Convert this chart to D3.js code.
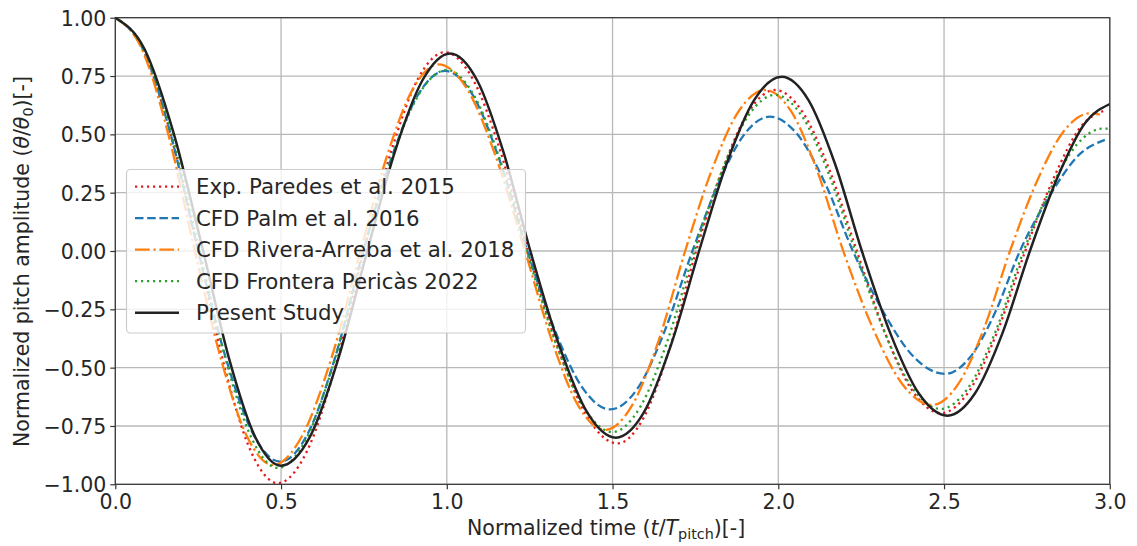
<!DOCTYPE html>
<html><head><meta charset="utf-8">
<script src="https://cdn.jsdelivr.net/npm/d3@7"></script>
<style>body{margin:0;background:#fff}text{font-family:"DejaVu Sans",sans-serif;fill:#262626}</style>
</head><body><svg id="c" width="1137" height="546"></svg>
<script>
// ---- data ----
const xTicks = [0, 0.5, 1, 1.5, 2, 2.5, 3];
const xTickLabels = ["0.0", "0.5", "1.0", "1.5", "2.0", "2.5", "3.0"];
const yTicks = [-1, -0.75, -0.5, -0.25, 0, 0.25, 0.5, 0.75, 1];
const yTickLabels = ["\u22121.00", "\u22120.75", "\u22120.50", "\u22120.25", "0.00", "0.25", "0.50", "0.75", "1.00"];
const seriesNames = ["Exp. Paredes et al. 2015", "CFD Palm et al. 2016", "CFD Rivera-Arreba et al. 2018", "CFD Frontera Pericàs 2022", "Present Study"];

const expParedes = [[0,1],[0.083,0.866],[0.167,0.5],[0.25,0],[0.33,-0.5],[0.41,-0.862],[0.49,-0.995],[0.577,-0.862],[0.663,-0.5],[0.75,0],
 [0.832,0.426],[0.913,0.738],[0.995,0.852],[1.078,0.738],[1.162,0.426],[1.245,0],[1.335,-0.413],[1.425,-0.714],[1.515,-0.825],
 [1.594,-0.714],[1.673,-0.413],[1.752,0],[1.831,0.345],[1.911,0.598],[1.99,0.69],[2.072,0.598],[2.155,0.345],[2.237,0],
 [2.321,-0.348],[2.406,-0.602],[2.49,-0.695],[2.575,-0.602],[2.66,-0.348],[2.745,0],[2.83,0.31],[2.915,0.537],[2.98,0.6]];
const cfdPalm = [[0,1],[0.083,0.866],[0.167,0.5],[0.25,0],[0.332,-0.452],[0.415,-0.782],[0.497,-0.903],[0.581,-0.782],[0.664,-0.452],[0.748,0],
 [0.83,0.386],[0.913,0.669],[0.995,0.772],[1.078,0.669],[1.16,0.386],[1.243,0],[1.326,-0.34],[1.41,-0.588],[1.493,-0.679],
 [1.576,-0.588],[1.658,-0.34],[1.741,0],[1.819,0.288],[1.897,0.499],[1.975,0.576],[2.058,0.499],[2.142,0.288],[2.225,0],
 [2.318,-0.264],[2.41,-0.456],[2.503,-0.527],[2.578,-0.456],[2.654,-0.264],[2.729,0],[2.82,0.24],[2.91,0.416],[2.985,0.476]];
const cfdRivera = [[0,1],[0.08,0.866],[0.16,0.5],[0.24,0],[0.318,-0.459],[0.397,-0.794],[0.475,-0.917],[0.563,-0.794],[0.652,-0.459],[0.74,0],
 [0.818,0.4],[0.897,0.693],[0.975,0.8],[1.062,0.693],[1.149,0.4],[1.236,0],[1.317,-0.384],[1.397,-0.664],[1.478,-0.767],
 [1.558,-0.664],[1.639,-0.384],[1.719,0],[1.799,0.345],[1.88,0.598],[1.96,0.69],[2.039,0.598],[2.117,0.345],[2.196,0],
 [2.285,-0.33],[2.375,-0.572],[2.464,-0.66],[2.542,-0.572],[2.621,-0.33],[2.699,0],[2.779,0.295],[2.86,0.511],[2.94,0.59],[2.97,0.585]];
const cfdFrontera = [[0,1],[0.085,0.866],[0.17,0.5],[0.255,0],[0.333,-0.465],[0.412,-0.805],[0.49,-0.93],[0.576,-0.805],[0.662,-0.465],[0.748,0],
 [0.832,0.388],[0.916,0.672],[1.0,0.776],[1.08,0.672],[1.161,0.388],[1.241,0],[1.327,-0.388],[1.414,-0.672],[1.5,-0.776],
 [1.582,-0.672],[1.665,-0.388],[1.747,0],[1.828,0.335],[1.909,0.579],[1.99,0.669],[2.071,0.579],[2.151,0.335],[2.232,0],
 [2.318,-0.339],[2.404,-0.586],[2.49,-0.677],[2.573,-0.586],[2.657,-0.339],[2.74,0],[2.82,0.263],[2.9,0.455],[2.98,0.525],[3.0,0.524]];
const presentStudy = [[0,1],[0.088,0.866],[0.177,0.5],[0.265,0],[0.343,-0.46],[0.422,-0.797],[0.5,-0.92],[0.587,-0.797],[0.673,-0.46],[0.76,0],
 [0.843,0.424],[0.927,0.733],[1.01,0.847],[1.091,0.733],[1.171,0.424],[1.252,0],[1.338,-0.4],[1.424,-0.693],[1.51,-0.8],
 [1.594,-0.693],[1.677,-0.4],[1.761,0],[1.844,0.374],[1.927,0.647],[2.01,0.747],[2.091,0.647],[2.171,0.374],[2.252,0],
 [2.338,-0.353],[2.424,-0.611],[2.51,-0.706],[2.593,-0.611],[2.676,-0.353],[2.759,0],[2.843,0.318],[2.926,0.55],[3.0,0.63]];

// ---- styles ----
const styles = [
  {color:"#e41a1c", dash:"2.2,3.8", w:2.3},
  {color:"#1f77b4", dash:"8.5,3.7", w:2.3},
  {color:"#ff7f0e", dash:"14.7,3.7,2.3,3.7", w:2.3},
  {color:"#2ca02c", dash:"2.2,3.8", w:2.3},
  {color:"#222222", dash:null, w:2.5}
];
const allSeries = [expParedes, cfdPalm, cfdRivera, cfdFrontera, presentStudy];

const FS = 20.5, LFS = 21.3;
const svg = d3.select("#c");
const L = 115.3, R = 1109.8, T = 17.7, B = 484.3;
const x = d3.scaleLinear().domain([0, 3]).range([L, R]);
const y = d3.scaleLinear().domain([-1, 1]).range([B, T]);

// grid
const g = svg.append("g");
g.selectAll(".gx").data(xTicks).enter().append("line")
  .attr("x1", d => x(d)).attr("x2", d => x(d)).attr("y1", T).attr("y2", B)
  .attr("stroke", "#b8b8b8").attr("stroke-width", 1.3);
g.selectAll(".gy").data(yTicks).enter().append("line")
  .attr("x1", L).attr("x2", R).attr("y1", d => y(d)).attr("y2", d => y(d))
  .attr("stroke", "#b8b8b8").attr("stroke-width", 1.3);

// clip
svg.append("clipPath").attr("id", "clip").append("rect")
  .attr("x", L).attr("y", T - 2).attr("width", R - L).attr("height", B - T + 4);

const line = d3.line().x(d => x(d[0])).y(d => y(d[1])).curve(d3.curveMonotoneX);
const lines = svg.append("g").attr("clip-path", "url(#clip)");
allSeries.forEach((s, i) => {
  lines.append("path").datum(s).attr("d", line)
    .attr("fill", "none").attr("stroke", styles[i].color)
    .attr("stroke-width", styles[i].w)
    .attr("stroke-dasharray", styles[i].dash)
    .attr("stroke-linejoin", "round");
});

// axes
const xAxis = d3.axisBottom(x).tickValues(xTicks).tickFormat((d, i) => xTickLabels[i]).tickSize(5).tickPadding(5);
const yAxis = d3.axisLeft(y).tickValues(yTicks).tickFormat((d, i) => yTickLabels[i]).tickSize(5).tickPadding(4);
const gx = svg.append("g").attr("transform", `translate(0,${B})`).call(xAxis);
const gy = svg.append("g").attr("transform", `translate(${L},0)`).call(yAxis);
[gx, gy].forEach(a => {
  a.select(".domain").remove();
  a.selectAll("line").attr("stroke", "#333").attr("stroke-width", 1.2);
  a.selectAll("text").style("font-size", FS + "px").attr("fill", "#262626");
});
gx.selectAll("text").attr("dy", "0.74em");
gy.selectAll("text").attr("dy", "0.36em");

// frame
svg.append("rect").attr("x", L).attr("y", T).attr("width", R - L).attr("height", B - T)
  .attr("fill", "none").attr("stroke", "#333").attr("stroke-width", 1.2);

// axis labels
const xl = svg.append("text").attr("x", 467).attr("y", 535).style("font-size", FS + "px");
xl.append("tspan").text("Normalized time (");
xl.append("tspan").style("font-style", "italic").text("t");
xl.append("tspan").text("/");
xl.append("tspan").style("font-style", "italic").text("T");
xl.append("tspan").style("font-size", (FS * 0.7) + "px").attr("dy", 4).text("pitch");
xl.append("tspan").attr("dy", -4).text(")[-]");

const yl = svg.append("text").attr("transform", "translate(29,447) rotate(-90)").style("font-size", FS + "px");
yl.append("tspan").text("Normalized pitch amplitude (");
yl.append("tspan").style("font-style", "italic").text("\u03B8");
yl.append("tspan").text("/");
yl.append("tspan").style("font-style", "italic").text("\u03B8");
yl.append("tspan").style("font-size", (FS * 0.7) + "px").attr("dy", 4).text("0");
yl.append("tspan").attr("dy", -4).text(")[-]");

// legend
const lg = svg.append("g");
lg.append("rect").attr("x", 126.5).attr("y", 169.5).attr("width", 399).attr("height", 163.5).attr("rx", 4)
  .attr("fill", "#fff").attr("fill-opacity", 0.8).attr("stroke", "#cccccc").attr("stroke-width", 1.2);
const rowY = [186.7, 218.2, 249.7, 281.2, 312.7];
seriesNames.forEach((n, i) => {
  lg.append("line").attr("x1", 135).attr("x2", 179).attr("y1", rowY[i]).attr("y2", rowY[i])
    .attr("stroke", styles[i].color).attr("stroke-width", styles[i].w)
    .attr("stroke-dasharray", styles[i].dash);
  lg.append("text").attr("x", 196).attr("y", rowY[i]).attr("dy", "0.36em")
    .style("font-size", LFS + "px").text(n);
});
</script></body></html>
